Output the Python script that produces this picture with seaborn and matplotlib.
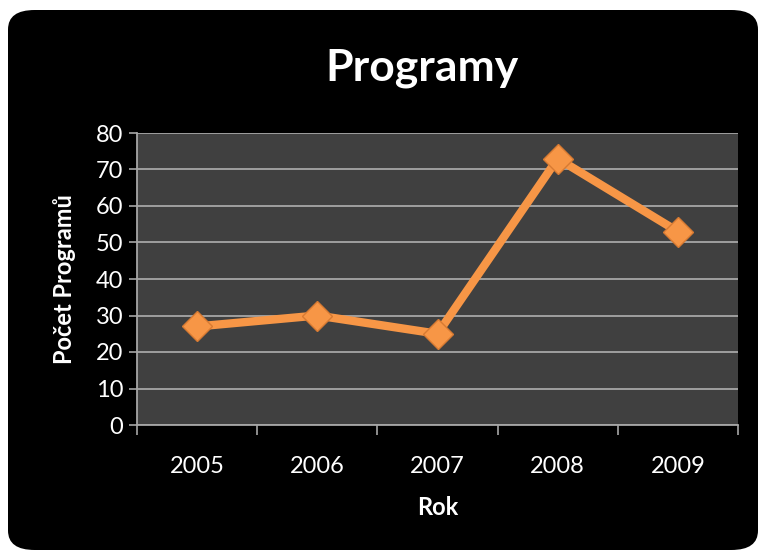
import numpy as np
import pandas as pd
import matplotlib.pyplot as plt
import seaborn as sns
from matplotlib.patches import FancyBboxPatch

# Data
years = ['2005', '2006', '2007', '2008', '2009']
programs = [27, 30, 25, 73, 53]
y_ticks = [0, 10, 20, 30, 40, 50, 60, 70, 80]

df = pd.DataFrame({'Rok': years, 'Počet Programů': programs})

sns.set_theme(style='dark')
plt.rcParams['font.family'] = ['Lato', 'DejaVu Sans']

fig = plt.figure(figsize=(7.63, 5.54), dpi=100)
fig.patch.set_facecolor('white')

# black rounded panel behind the chart
panel = FancyBboxPatch((8 / 763, 4 / 554), 750 / 763, 540 / 554,
                       boxstyle='round,pad=0,rounding_size=0.035',
                       transform=fig.transFigure, facecolor='black',
                       edgecolor='none', zorder=-5)
fig.patches.append(panel)

ax = fig.add_axes([137 / 763, 129 / 554, 601 / 763, 292 / 554])
ax.set_zorder(2)
ax.set_facecolor('#404040')

sns.lineplot(data=df, x='Rok', y='Počet Programů', ax=ax, color='#F79646',
             linewidth=6, marker='D', markersize=15,
             markeredgecolor='#d77a32', markeredgewidth=1.0, zorder=3)

ax.set_xlim(-0.5, 4.5)
ax.set_ylim(0, 80)
ax.set_yticks(y_ticks)
ax.set_xticks(range(len(years)))
ax.set_xticklabels(years)
ax.set_xticks(np.arange(-0.5, len(years), 1), minor=True)

ax.grid(axis='y', color='#a6a6a6', linewidth=1.3)
ax.grid(axis='x', visible=False)
ax.set_axisbelow(True)

for side in ['top', 'right']:
    ax.spines[side].set_visible(False)
for side in ['left', 'bottom']:
    ax.spines[side].set_visible(True)
    ax.spines[side].set_color('#a6a6a6')
    ax.spines[side].set_linewidth(1.3)

ax.tick_params(axis='y', colors='white', labelsize=17, length=6, width=1.2,
               direction='out', left=True, pad=4)
ax.tick_params(axis='y', which='major', color='#a6a6a6')
ax.tick_params(axis='x', which='major', colors='white', labelsize=17, length=0, pad=22)
ax.tick_params(axis='x', which='minor', color='#a6a6a6', length=7, width=1.2,
               direction='out', bottom=True)

ax.set_xlabel('Rok', color='white', fontsize=17, fontweight='bold', labelpad=14)
ax.set_ylabel('Počet Programů', color='white', fontsize=17, fontweight='bold', labelpad=14)

fig.text(422 / 763, 1 - 68 / 554, 'Programy', color='white', fontsize=32,
         fontweight='bold', ha='center', va='center')

fig.savefig('out.png', dpi=100, facecolor=fig.get_facecolor())
